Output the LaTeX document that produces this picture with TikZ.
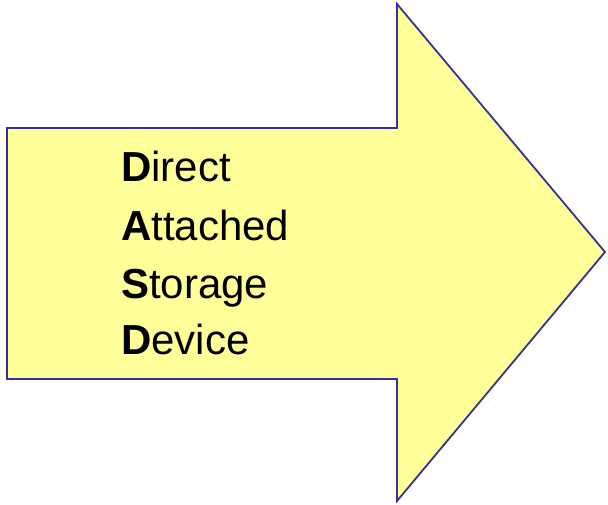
\documentclass[tikz,border=0pt]{standalone}
\usepackage{fontspec}
\setmainfont{Liberation Sans}
\definecolor{arrowfill}{HTML}{FFFF99}
\definecolor{arrowline}{HTML}{333399}
\tikzset{
  bigarrow/.style={draw=arrowline, fill=arrowfill, line width=1.8pt, line join=miter},
  word/.style={anchor=base west, inner sep=0pt, font=\fontsize{42}{50}\selectfont}
}
\begin{document}
\begin{tikzpicture}[x=1pt, y=-1pt]
\useasboundingbox (0,0) rectangle (608,504);
\draw[bigarrow] (7,128) -- (397,128) -- (397,4) -- (605,252) -- (397,501) -- (397,379) -- (7,379) -- cycle;
\node[word] (w1) at (121,181) {\textbf{D}irect};
\node[word] (w2) at (121,240) {\textbf{A}ttached};
\node[word] (w3) at (121,298) {\textbf{S}torage};
\node[word] (w4) at (121,354) {\textbf{D}evice};
\end{tikzpicture}
\end{document}
